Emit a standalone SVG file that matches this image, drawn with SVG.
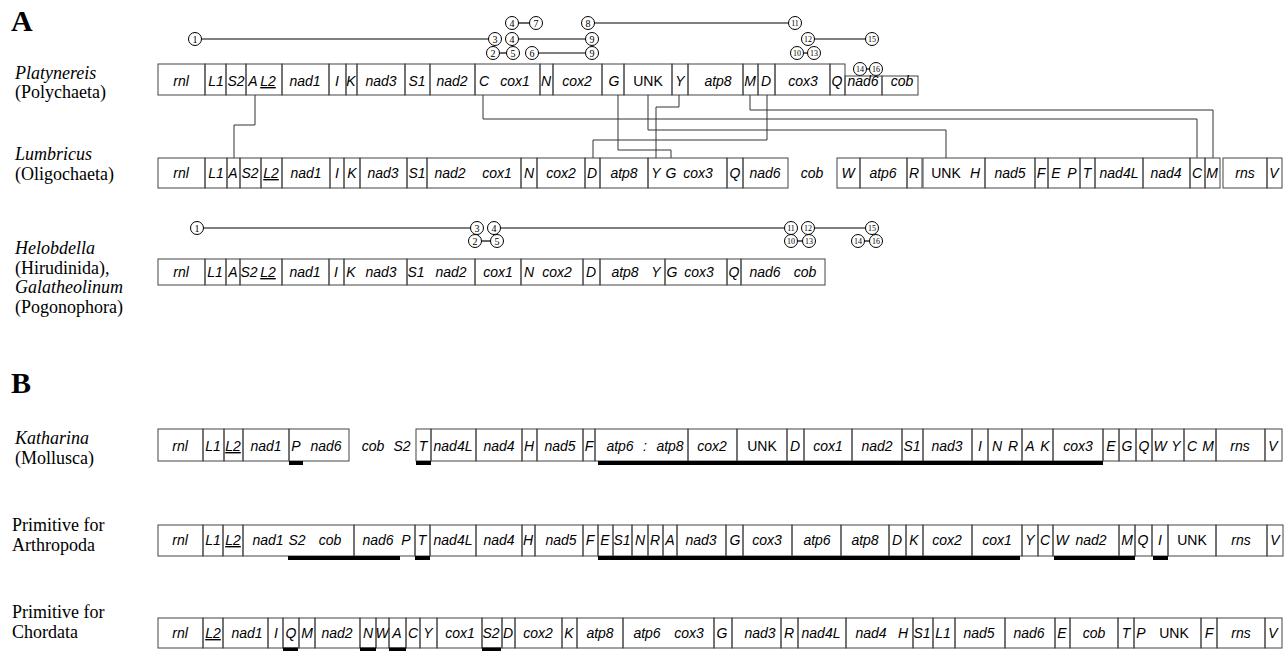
<svg xmlns="http://www.w3.org/2000/svg" width="1286" height="651" viewBox="0 0 1286 651">
<style>
text{font-family:"Liberation Sans",Arial,sans-serif}
.g{font-style:italic;font-size:14px;text-anchor:middle}
.n{font-style:normal}
.u{text-decoration:underline}
.b{fill:none;stroke:#444;stroke-width:1}
.bar{stroke:#000;stroke-width:4}
.c{fill:none;stroke:#333;stroke-width:1}
.ln{stroke:#000;stroke-width:1.2}
.ci{fill:#fff;stroke:#000;stroke-width:1}
.num{font-family:"Liberation Serif","Times New Roman",serif;font-size:10px;text-anchor:middle}
.num2{font-family:"Liberation Serif","Times New Roman",serif;font-size:8px;text-anchor:middle}
.sp{font-family:"Liberation Serif","Times New Roman",serif;font-size:18px}
.spi{font-style:italic}
.big{font-family:"Liberation Serif","Times New Roman",serif;font-size:30px;font-weight:bold}
</style>

<g id="labels">
<text class="big" x="11" y="31">A</text>
<text class="big" x="11" y="393">B</text>
<text class="sp spi" x="15" y="79">Platynereis</text>
<text class="sp" x="15" y="98">(Polychaeta)</text>
<text class="sp spi" x="15" y="160">Lumbricus</text>
<text class="sp" x="15" y="180">(Oligochaeta)</text>
<text class="sp spi" x="15" y="254">Helobdella</text>
<text class="sp" x="15" y="274">(Hirudinida),</text>
<text class="sp spi" x="15" y="293">Galatheolinum</text>
<text class="sp" x="15" y="313">(Pogonophora)</text>
<text class="sp spi" x="15" y="444">Katharina</text>
<text class="sp" x="15" y="464">(Mollusca)</text>
<text class="sp" x="12" y="531">Primitive for</text>
<text class="sp" x="12" y="551">Arthropoda</text>
<text class="sp" x="12" y="618">Primitive for</text>
<text class="sp" x="12" y="638">Chordata</text>
</g>

<g id="bp-platynereis">
<line class="ln" x1="195" y1="39" x2="495" y2="39"/>
<line class="ln" x1="512" y1="39" x2="592" y2="39"/>
<line class="ln" x1="808" y1="39" x2="872" y2="39"/>
<line class="ln" x1="512" y1="23" x2="536" y2="23"/>
<line class="ln" x1="588" y1="23" x2="795" y2="23"/>
<line class="ln" x1="493" y1="53" x2="513" y2="53"/>
<line class="ln" x1="532" y1="53" x2="592" y2="53"/>
<line class="ln" x1="797" y1="53" x2="814" y2="53"/>
<line class="ln" x1="860" y1="69" x2="876" y2="69"/>
<circle class="ci" cx="195" cy="39" r="6.5"/><text class="num" x="195" y="42.5">1</text>
<circle class="ci" cx="495" cy="39" r="6.5"/><text class="num" x="495" y="42.5">3</text>
<circle class="ci" cx="512" cy="39" r="6.5"/><text class="num" x="512" y="42.5">4</text>
<circle class="ci" cx="592" cy="39" r="6.5"/><text class="num" x="592" y="42.5">9</text>
<circle class="ci" cx="808" cy="39" r="6.5"/><text class="num2" x="808" y="42">12</text>
<circle class="ci" cx="872" cy="39" r="6.5"/><text class="num2" x="872" y="42">15</text>
<circle class="ci" cx="512" cy="23" r="6.5"/><text class="num" x="512" y="26.5">4</text>
<circle class="ci" cx="536" cy="23" r="6.5"/><text class="num" x="536" y="26.5">7</text>
<circle class="ci" cx="588" cy="23" r="6.5"/><text class="num" x="588" y="26.5">8</text>
<circle class="ci" cx="795" cy="23" r="6.5"/><text class="num2" x="795" y="26">11</text>
<circle class="ci" cx="493" cy="53" r="6.5"/><text class="num" x="493" y="56.5">2</text>
<circle class="ci" cx="513" cy="53" r="6.5"/><text class="num" x="513" y="56.5">5</text>
<circle class="ci" cx="532" cy="53" r="6.5"/><text class="num" x="532" y="56.5">6</text>
<circle class="ci" cx="592" cy="53" r="6.5"/><text class="num" x="592" y="56.5">9</text>
<circle class="ci" cx="797" cy="53" r="6.5"/><text class="num2" x="797" y="56">10</text>
<circle class="ci" cx="814" cy="53" r="6.5"/><text class="num2" x="814" y="56">13</text>
<circle class="ci" cx="860" cy="69" r="6.5"/><text class="num2" x="860" y="72">14</text>
<circle class="ci" cx="876" cy="69" r="6.5"/><text class="num2" x="876" y="72">16</text>
</g>

<g id="row-platynereis" class="g">
<g id="p-rnl"><rect class="b" x="158" y="64" width="47" height="31"/><text x="181" y="86">rnl</text></g>
<g id="p-L1"><rect class="b" x="205" y="64" width="21" height="31"/><text x="216" y="86">L1</text></g>
<g id="p-S2"><rect class="b" x="226" y="64" width="20" height="31"/><text x="236" y="86">S2</text></g>
<g id="p-A-L2"><rect class="b" x="246" y="64" width="36" height="31"/><text x="253" y="86">A</text><text class="u" x="268" y="86">L2</text></g>
<g id="p-nad1"><rect class="b" x="282" y="64" width="47" height="31"/><text x="305" y="86">nad1</text></g>
<g id="p-I"><rect class="b" x="329" y="64" width="17" height="31"/><text x="337" y="86">I</text></g>
<g id="p-K"><rect class="b" x="346" y="64" width="11" height="31"/><text x="351" y="86">K</text></g>
<g id="p-nad3"><rect class="b" x="357" y="64" width="48" height="31"/><text x="381" y="86">nad3</text></g>
<g id="p-S1"><rect class="b" x="405" y="64" width="25" height="31"/><text x="417" y="86">S1</text></g>
<g id="p-nad2"><rect class="b" x="430" y="64" width="45" height="31"/><text x="452" y="86">nad2</text></g>
<g id="p-C-cox1"><rect class="b" x="475" y="64" width="65" height="31"/><text x="484" y="86">C</text><text x="515" y="86">cox1</text></g>
<g id="p-N"><rect class="b" x="540" y="64" width="13" height="31"/><text x="546" y="86">N</text></g>
<g id="p-cox2"><rect class="b" x="553" y="64" width="49" height="31"/><text x="577" y="86">cox2</text></g>
<g id="p-G"><rect class="b" x="602" y="64" width="22" height="31"/><text x="614" y="86">G</text></g>
<g id="p-UNK"><rect class="b" x="624" y="64" width="48" height="31"/><text class="n" x="648" y="86">UNK</text></g>
<g id="p-Y"><rect class="b" x="672" y="64" width="16" height="31"/><text x="680" y="86">Y</text></g>
<g id="p-atp8"><rect class="b" x="688" y="64" width="55" height="31"/><text x="718" y="86">atp8</text></g>
<g id="p-M"><rect class="b" x="743" y="64" width="15" height="31"/><text x="750" y="86">M</text></g>
<g id="p-D"><rect class="b" x="758" y="64" width="17" height="31"/><text x="766" y="86">D</text></g>
<g id="p-cox3"><rect class="b" x="775" y="64" width="55" height="31"/><text x="803" y="86">cox3</text></g>
<g id="p-Q"><rect class="b" x="830" y="64" width="15" height="31"/><text x="837" y="86">Q</text></g>
<g id="p-nad6"><rect class="b" x="845" y="76" width="37" height="19"/><text x="863" y="86">nad6</text></g>
<g id="p-cob"><rect class="b" x="882" y="76" width="36" height="19"/><text x="902" y="86">cob</text></g>
</g>

<g id="connectors">
<polyline class="c" points="255,95 255,125 234,125 234,158"/>
<polyline class="c" points="483,95 483,119 1197,119 1197,158"/>
<polyline class="c" points="750,95 750,110 1213,110 1213,158"/>
<polyline class="c" points="648,95 648,130 946,130 946,158"/>
<polyline class="c" points="618,95 618,150 671,150 671,158"/>
<polyline class="c" points="679,95 679,107 656,107 656,158"/>
<polyline class="c" points="767,95 767,140 593,140 593,158"/>
</g>

<g id="row-lumbricus" class="g">
<g id="l-rnl"><rect class="b" x="158" y="158" width="47" height="30"/><text x="181" y="178">rnl</text></g>
<g id="l-L1"><rect class="b" x="205" y="158" width="22" height="30"/><text x="216" y="178">L1</text></g>
<g id="l-A"><rect class="b" x="227" y="158" width="13" height="30"/><text x="233" y="178">A</text></g>
<g id="l-S2"><rect class="b" x="240" y="158" width="21" height="30"/><text x="250" y="178">S2</text></g>
<g id="l-L2"><rect class="b" x="261" y="158" width="21" height="30"/><text class="u" x="271" y="178">L2</text></g>
<g id="l-nad1"><rect class="b" x="282" y="158" width="48" height="30"/><text x="306" y="178">nad1</text></g>
<g id="l-I"><rect class="b" x="330" y="158" width="14" height="30"/><text x="337" y="178">I</text></g>
<g id="l-K"><rect class="b" x="344" y="158" width="16" height="30"/><text x="352" y="178">K</text></g>
<g id="l-nad3"><rect class="b" x="360" y="158" width="47" height="30"/><text x="383" y="178">nad3</text></g>
<g id="l-S1"><rect class="b" x="407" y="158" width="20" height="30"/><text x="417" y="178">S1</text></g>
<g id="l-nad2-cox1"><rect class="b" x="427" y="158" width="94" height="30"/><text x="450" y="178">nad2</text><text x="497" y="178">cox1</text></g>
<g id="l-N"><rect class="b" x="521" y="158" width="16" height="30"/><text x="529" y="178">N</text></g>
<g id="l-cox2"><rect class="b" x="537" y="158" width="48" height="30"/><text x="561" y="178">cox2</text></g>
<g id="l-D"><rect class="b" x="585" y="158" width="15" height="30"/><text x="592" y="178">D</text></g>
<g id="l-atp8"><rect class="b" x="600" y="158" width="48" height="30"/><text x="624" y="178">atp8</text></g>
<g id="l-Y-G-cox3"><rect class="b" x="648" y="158" width="79" height="30"/><text x="656" y="178">Y</text><text x="671" y="178">G</text><text x="698" y="178">cox3</text></g>
<g id="l-Q"><rect class="b" x="727" y="158" width="16" height="30"/><text x="735" y="178">Q</text></g>
<g id="l-nad6"><rect class="b" x="743" y="158" width="45" height="30"/><text x="765" y="178">nad6</text></g>
<g id="l-cob"><text x="812" y="178">cob</text></g>
<g id="l-W"><rect class="b" x="837" y="158" width="23" height="30"/><text x="848" y="178">W</text></g>
<g id="l-atp6"><rect class="b" x="860" y="158" width="47" height="30"/><text x="883" y="178">atp6</text></g>
<g id="l-R"><rect class="b" x="907" y="158" width="15" height="30"/><text x="914" y="178">R</text></g>
<g id="l-UNK-H"><rect class="b" x="923" y="158" width="62" height="30"/><text class="n" x="946" y="178">UNK</text><text x="975" y="178">H</text></g>
<g id="l-nad5"><rect class="b" x="985" y="158" width="50" height="30"/><text x="1010" y="178">nad5</text></g>
<g id="l-F"><rect class="b" x="1035" y="158" width="13" height="30"/><text x="1041" y="178">F</text></g>
<g id="l-E-P"><rect class="b" x="1048" y="158" width="32" height="30"/><text x="1056" y="178">E</text><text x="1072" y="178">P</text></g>
<g id="l-T"><rect class="b" x="1080" y="158" width="15" height="30"/><text x="1087" y="178">T</text></g>
<g id="l-nad4L"><rect class="b" x="1095" y="158" width="48" height="30"/><text x="1119" y="178">nad4L</text></g>
<g id="l-nad4"><rect class="b" x="1143" y="158" width="47" height="30"/><text x="1166" y="178">nad4</text></g>
<g id="l-C"><rect class="b" x="1190" y="158" width="15" height="30"/><text x="1197" y="178">C</text></g>
<g id="l-M"><rect class="b" x="1205" y="158" width="15" height="30"/><text x="1212" y="178">M</text></g>
<g id="l-rns"><rect class="b" x="1223" y="158" width="44" height="30"/><text x="1245" y="178">rns</text></g>
<g id="l-V"><rect class="b" x="1267" y="158" width="15" height="30"/><text x="1274" y="178">V</text></g>
</g>

<g id="bp-helobdella">
<line class="ln" x1="197" y1="228" x2="477" y2="228"/>
<line class="ln" x1="494" y1="228" x2="791" y2="228"/>
<line class="ln" x1="808" y1="228" x2="872" y2="228"/>
<line class="ln" x1="475" y1="241" x2="497" y2="241"/>
<line class="ln" x1="791" y1="241" x2="809" y2="241"/>
<line class="ln" x1="858" y1="241" x2="876" y2="241"/>
<circle class="ci" cx="197" cy="228" r="6.5"/><text class="num" x="197" y="231.5">1</text>
<circle class="ci" cx="477" cy="228" r="6.5"/><text class="num" x="477" y="231.5">3</text>
<circle class="ci" cx="494" cy="228" r="6.5"/><text class="num" x="494" y="231.5">4</text>
<circle class="ci" cx="791" cy="228" r="6.5"/><text class="num2" x="791" y="231">11</text>
<circle class="ci" cx="808" cy="228" r="6.5"/><text class="num2" x="808" y="231">12</text>
<circle class="ci" cx="872" cy="228" r="6.5"/><text class="num2" x="872" y="231">15</text>
<circle class="ci" cx="475" cy="241" r="6.5"/><text class="num" x="475" y="244.5">2</text>
<circle class="ci" cx="497" cy="241" r="6.5"/><text class="num" x="497" y="244.5">5</text>
<circle class="ci" cx="791" cy="241" r="6.5"/><text class="num2" x="791" y="244">10</text>
<circle class="ci" cx="809" cy="241" r="6.5"/><text class="num2" x="809" y="244">13</text>
<circle class="ci" cx="858" cy="241" r="6.5"/><text class="num2" x="858" y="244">14</text>
<circle class="ci" cx="876" cy="241" r="6.5"/><text class="num2" x="876" y="244">16</text>
</g>

<g id="row-helobdella" class="g">
<g id="h-rnl"><rect class="b" x="158" y="259" width="47" height="26"/><text x="181" y="277">rnl</text></g>
<g id="h-L1"><rect class="b" x="205" y="259" width="21" height="26"/><text x="215" y="277">L1</text></g>
<g id="h-A"><rect class="b" x="226" y="259" width="14" height="26"/><text x="233" y="277">A</text></g>
<g id="h-S2-L2"><rect class="b" x="240" y="259" width="42" height="26"/><text x="249" y="277">S2</text><text class="u" x="268" y="277">L2</text></g>
<g id="h-nad1"><rect class="b" x="282" y="259" width="47" height="26"/><text x="305" y="277">nad1</text></g>
<g id="h-I"><rect class="b" x="329" y="259" width="15" height="26"/><text x="336" y="277">I</text></g>
<g id="h-K-nad3"><rect class="b" x="344" y="259" width="63" height="26"/><text x="351" y="277">K</text><text x="381" y="277">nad3</text></g>
<g id="h-S1-nad2"><rect class="b" x="407" y="259" width="68" height="26"/><text x="416" y="277">S1</text><text x="451" y="277">nad2</text></g>
<g id="h-cox1"><rect class="b" x="475" y="259" width="46" height="26"/><text x="498" y="277">cox1</text></g>
<g id="h-N-cox2"><rect class="b" x="521" y="259" width="62" height="26"/><text x="529" y="277">N</text><text x="557" y="277">cox2</text></g>
<g id="h-D"><rect class="b" x="583" y="259" width="17" height="26"/><text x="591" y="277">D</text></g>
<g id="h-atp8-Y"><rect class="b" x="600" y="259" width="65" height="26"/><text x="625" y="277">atp8</text><text x="656" y="277">Y</text></g>
<g id="h-G-cox3"><rect class="b" x="665" y="259" width="62" height="26"/><text x="672" y="277">G</text><text x="699" y="277">cox3</text></g>
<g id="h-Q"><rect class="b" x="727" y="259" width="14" height="26"/><text x="734" y="277">Q</text></g>
<g id="h-nad6-cob"><rect class="b" x="741" y="259" width="84" height="26"/><text x="765" y="277">nad6</text><text x="805" y="277">cob</text></g>
</g>

<g id="row-katharina" class="g">
<g id="k-rnl"><rect class="b" x="158" y="429" width="45" height="32"/><text x="180" y="451">rnl</text></g>
<g id="k-L1"><rect class="b" x="203" y="429" width="21" height="32"/><text x="213" y="451">L1</text></g>
<g id="k-L2"><rect class="b" x="224" y="429" width="19" height="32"/><text class="u" x="233" y="451">L2</text></g>
<g id="k-nad1"><rect class="b" x="243" y="429" width="46" height="32"/><text x="266" y="451">nad1</text></g>
<g id="k-P-nad6"><rect class="b" x="289" y="429" width="60" height="32"/><text x="296" y="451">P</text><text x="326" y="451">nad6</text></g>
<g id="k-cob"><text x="373" y="451">cob</text></g>
<g id="k-S2"><text x="402" y="451">S2</text></g>
<g id="k-T"><rect class="b" x="416" y="429" width="15" height="32"/><text x="423" y="451">T</text></g>
<g id="k-nad4L"><rect class="b" x="431" y="429" width="45" height="32"/><text x="453" y="451">nad4L</text></g>
<g id="k-nad4"><rect class="b" x="476" y="429" width="46" height="32"/><text x="499" y="451">nad4</text></g>
<g id="k-H"><rect class="b" x="522" y="429" width="15" height="32"/><text x="529" y="451">H</text></g>
<g id="k-nad5"><rect class="b" x="537" y="429" width="46" height="32"/><text x="560" y="451">nad5</text></g>
<g id="k-F"><rect class="b" x="583" y="429" width="12" height="32"/><text x="589" y="451">F</text></g>
<g id="k-atp6-atp8"><rect class="b" x="595" y="429" width="93" height="32"/><text x="620" y="451">atp6</text><text x="645" y="451">:</text><text x="670" y="451">atp8</text></g>
<g id="k-cox2"><rect class="b" x="688" y="429" width="49" height="32"/><text x="712" y="451">cox2</text></g>
<g id="k-UNK"><rect class="b" x="737" y="429" width="50" height="32"/><text class="n" x="762" y="451">UNK</text></g>
<g id="k-D"><rect class="b" x="787" y="429" width="17" height="32"/><text x="795" y="451">D</text></g>
<g id="k-cox1"><rect class="b" x="804" y="429" width="48" height="32"/><text x="828" y="451">cox1</text></g>
<g id="k-nad2"><rect class="b" x="852" y="429" width="50" height="32"/><text x="877" y="451">nad2</text></g>
<g id="k-S1"><rect class="b" x="902" y="429" width="21" height="32"/><text x="912" y="451">S1</text></g>
<g id="k-nad3"><rect class="b" x="923" y="429" width="49" height="32"/><text x="947" y="451">nad3</text></g>
<g id="k-I"><rect class="b" x="972" y="429" width="16" height="32"/><text x="980" y="451">I</text></g>
<g id="k-N-R"><rect class="b" x="988" y="429" width="34" height="32"/><text x="997" y="451">N</text><text x="1013" y="451">R</text></g>
<g id="k-A-K"><rect class="b" x="1022" y="429" width="31" height="32"/><text x="1030" y="451">A</text><text x="1045" y="451">K</text></g>
<g id="k-cox3"><rect class="b" x="1053" y="429" width="50" height="32"/><text x="1078" y="451">cox3</text></g>
<g id="k-E"><rect class="b" x="1103" y="429" width="16" height="32"/><text x="1111" y="451">E</text></g>
<g id="k-G"><rect class="b" x="1119" y="429" width="17" height="32"/><text x="1127" y="451">G</text></g>
<g id="k-Q"><rect class="b" x="1136" y="429" width="16" height="32"/><text x="1144" y="451">Q</text></g>
<g id="k-W-Y"><rect class="b" x="1152" y="429" width="32" height="32"/><text x="1160" y="451">W</text><text x="1176" y="451">Y</text></g>
<g id="k-C-M"><rect class="b" x="1184" y="429" width="32" height="32"/><text x="1192" y="451">C</text><text x="1208" y="451">M</text></g>
<g id="k-rns"><rect class="b" x="1216" y="429" width="49" height="32"/><text x="1240" y="451">rns</text></g>
<g id="k-V"><rect class="b" x="1265" y="429" width="17" height="32"/><text x="1273" y="451">V</text></g>
<line class="bar" x1="289" y1="463" x2="303" y2="463"/>
<line class="bar" x1="416" y1="463" x2="431" y2="463"/>
<line class="bar" x1="598" y1="463" x2="1103" y2="463"/>
</g>

<g id="row-arthropoda" class="g">
<g id="a-rnl"><rect class="b" x="158" y="525" width="45" height="31"/><text x="180" y="545">rnl</text></g>
<g id="a-L1"><rect class="b" x="203" y="525" width="20" height="31"/><text x="213" y="545">L1</text></g>
<g id="a-L2"><rect class="b" x="223" y="525" width="20" height="31"/><text class="u" x="233" y="545">L2</text></g>
<g id="a-nad1-S2-cob"><rect class="b" x="243" y="525" width="111" height="31"/><text x="268" y="545">nad1</text><text x="297" y="545">S2</text><text x="330" y="545">cob</text></g>
<g id="a-nad6-P"><rect class="b" x="354" y="525" width="61" height="31"/><text x="378" y="545">nad6</text><text x="406" y="545">P</text></g>
<g id="a-T"><rect class="b" x="415" y="525" width="15" height="31"/><text x="422" y="545">T</text></g>
<g id="a-nad4L"><rect class="b" x="430" y="525" width="46" height="31"/><text x="453" y="545">nad4L</text></g>
<g id="a-nad4"><rect class="b" x="476" y="525" width="46" height="31"/><text x="499" y="545">nad4</text></g>
<g id="a-H"><rect class="b" x="522" y="525" width="13" height="31"/><text x="528" y="545">H</text></g>
<g id="a-nad5"><rect class="b" x="535" y="525" width="48" height="31"/><text x="561" y="545">nad5</text></g>
<g id="a-F"><rect class="b" x="583" y="525" width="15" height="31"/><text x="590" y="545">F</text></g>
<g id="a-E"><rect class="b" x="598" y="525" width="15" height="31"/><text x="605" y="545">E</text></g>
<g id="a-S1"><rect class="b" x="613" y="525" width="19" height="31"/><text x="622" y="545">S1</text></g>
<g id="a-N"><rect class="b" x="632" y="525" width="16" height="31"/><text x="640" y="545">N</text></g>
<g id="a-R"><rect class="b" x="648" y="525" width="15" height="31"/><text x="655" y="545">R</text></g>
<g id="a-A"><rect class="b" x="663" y="525" width="14" height="31"/><text x="670" y="545">A</text></g>
<g id="a-nad3"><rect class="b" x="677" y="525" width="49" height="31"/><text x="701" y="545">nad3</text></g>
<g id="a-G"><rect class="b" x="726" y="525" width="17" height="31"/><text x="735" y="545">G</text></g>
<g id="a-cox3"><rect class="b" x="743" y="525" width="49" height="31"/><text x="767" y="545">cox3</text></g>
<g id="a-atp6"><rect class="b" x="792" y="525" width="49" height="31"/><text x="817" y="545">atp6</text></g>
<g id="a-atp8"><rect class="b" x="841" y="525" width="48" height="31"/><text x="865" y="545">atp8</text></g>
<g id="a-D"><rect class="b" x="889" y="525" width="17" height="31"/><text x="897" y="545">D</text></g>
<g id="a-K"><rect class="b" x="906" y="525" width="17" height="31"/><text x="914" y="545">K</text></g>
<g id="a-cox2"><rect class="b" x="923" y="525" width="49" height="31"/><text x="947" y="545">cox2</text></g>
<g id="a-cox1"><rect class="b" x="972" y="525" width="50" height="31"/><text x="997" y="545">cox1</text></g>
<g id="a-Y"><rect class="b" x="1022" y="525" width="16" height="31"/><text x="1030" y="545">Y</text></g>
<g id="a-C"><rect class="b" x="1038" y="525" width="15" height="31"/><text x="1045" y="545">C</text></g>
<g id="a-W-nad2"><rect class="b" x="1053" y="525" width="66" height="31"/><text x="1062" y="545">W</text><text x="1091" y="545">nad2</text></g>
<g id="a-M"><rect class="b" x="1119" y="525" width="16" height="31"/><text x="1127" y="545">M</text></g>
<g id="a-Q"><rect class="b" x="1135" y="525" width="17" height="31"/><text x="1143" y="545">Q</text></g>
<g id="a-I"><rect class="b" x="1152" y="525" width="16" height="31"/><text x="1160" y="545">I</text></g>
<g id="a-UNK"><rect class="b" x="1168" y="525" width="48" height="31"/><text class="n" x="1192" y="545">UNK</text></g>
<g id="a-rns"><rect class="b" x="1216" y="525" width="51" height="31"/><text x="1241" y="545">rns</text></g>
<g id="a-V"><rect class="b" x="1267" y="525" width="16" height="31"/><text x="1275" y="545">V</text></g>
<line class="bar" x1="288" y1="558" x2="400" y2="558"/>
<line class="bar" x1="415" y1="558" x2="430" y2="558"/>
<line class="bar" x1="598" y1="558" x2="1020" y2="558"/>
<line class="bar" x1="1054" y1="558" x2="1135" y2="558"/>
<line class="bar" x1="1153" y1="558" x2="1168" y2="558"/>
</g>

<g id="row-chordata" class="g">
<g id="c-rnl"><rect class="b" x="158" y="618" width="45" height="30"/><text x="180" y="638">rnl</text></g>
<g id="c-L2"><rect class="b" x="203" y="618" width="20" height="30"/><text class="u" x="213" y="638">L2</text></g>
<g id="c-nad1"><rect class="b" x="223" y="618" width="45" height="30"/><text x="247" y="638">nad1</text></g>
<g id="c-I"><rect class="b" x="268" y="618" width="15" height="30"/><text x="276" y="638">I</text></g>
<g id="c-Q"><rect class="b" x="283" y="618" width="16" height="30"/><text x="291" y="638">Q</text></g>
<g id="c-M"><rect class="b" x="299" y="618" width="16" height="30"/><text x="307" y="638">M</text></g>
<g id="c-nad2"><rect class="b" x="315" y="618" width="45" height="30"/><text x="337" y="638">nad2</text></g>
<g id="c-N"><rect class="b" x="360" y="618" width="16" height="30"/><text x="368" y="638">N</text></g>
<g id="c-W"><rect class="b" x="376" y="618" width="13" height="30"/><text x="382" y="638">W</text></g>
<g id="c-A"><rect class="b" x="389" y="618" width="17" height="30"/><text x="397" y="638">A</text></g>
<g id="c-C"><rect class="b" x="406" y="618" width="14" height="30"/><text x="413" y="638">C</text></g>
<g id="c-Y"><rect class="b" x="420" y="618" width="17" height="30"/><text x="428" y="638">Y</text></g>
<g id="c-cox1"><rect class="b" x="437" y="618" width="45" height="30"/><text x="460" y="638">cox1</text></g>
<g id="c-S2"><rect class="b" x="482" y="618" width="20" height="30"/><text x="491" y="638">S2</text></g>
<g id="c-D"><rect class="b" x="502" y="618" width="13" height="30"/><text x="508" y="638">D</text></g>
<g id="c-cox2"><rect class="b" x="515" y="618" width="47" height="30"/><text x="538" y="638">cox2</text></g>
<g id="c-K"><rect class="b" x="562" y="618" width="15" height="30"/><text x="569" y="638">K</text></g>
<g id="c-atp8"><rect class="b" x="577" y="618" width="46" height="30"/><text x="600" y="638">atp8</text></g>
<g id="c-atp6-cox3"><rect class="b" x="623" y="618" width="91" height="30"/><text x="647" y="638">atp6</text><text x="689" y="638">cox3</text></g>
<g id="c-G"><rect class="b" x="714" y="618" width="18" height="30"/><text x="722" y="638">G</text></g>
<g id="c-nad3"><rect class="b" x="732" y="618" width="49" height="30"/><text x="760" y="638">nad3</text></g>
<g id="c-R"><rect class="b" x="781" y="618" width="17" height="30"/><text x="789" y="638">R</text></g>
<g id="c-nad4L"><rect class="b" x="798" y="618" width="48" height="30"/><text x="821" y="638">nad4L</text></g>
<g id="c-nad4-H"><rect class="b" x="846" y="618" width="67" height="30"/><text x="871" y="638">nad4</text><text x="903" y="638">H</text></g>
<g id="c-S1"><rect class="b" x="913" y="618" width="20" height="30"/><text x="922" y="638">S1</text></g>
<g id="c-L1"><rect class="b" x="933" y="618" width="22" height="30"/><text x="943" y="638">L1</text></g>
<g id="c-nad5"><rect class="b" x="955" y="618" width="50" height="30"/><text x="979" y="638">nad5</text></g>
<g id="c-nad6"><rect class="b" x="1005" y="618" width="50" height="30"/><text x="1029" y="638">nad6</text></g>
<g id="c-E"><rect class="b" x="1055" y="618" width="15" height="30"/><text x="1062" y="638">E</text></g>
<g id="c-cob"><rect class="b" x="1070" y="618" width="48" height="30"/><text x="1094" y="638">cob</text></g>
<g id="c-T"><rect class="b" x="1118" y="618" width="16" height="30"/><text x="1126" y="638">T</text></g>
<g id="c-P-UNK"><rect class="b" x="1134" y="618" width="67" height="30"/><text x="1141" y="638">P</text><text class="n" x="1174" y="638">UNK</text></g>
<g id="c-F"><rect class="b" x="1201" y="618" width="16" height="30"/><text x="1209" y="638">F</text></g>
<g id="c-rns"><rect class="b" x="1217" y="618" width="48" height="30"/><text x="1241" y="638">rns</text></g>
<g id="c-V"><rect class="b" x="1265" y="618" width="17" height="30"/><text x="1273" y="638">V</text></g>
<line class="bar" x1="283" y1="649.5" x2="298" y2="649.5"/>
<line class="bar" x1="360" y1="649.5" x2="376" y2="649.5"/>
<line class="bar" x1="389" y1="649.5" x2="406" y2="649.5"/>
<line class="bar" x1="482" y1="649.5" x2="501" y2="649.5"/>
</g>
</svg>
